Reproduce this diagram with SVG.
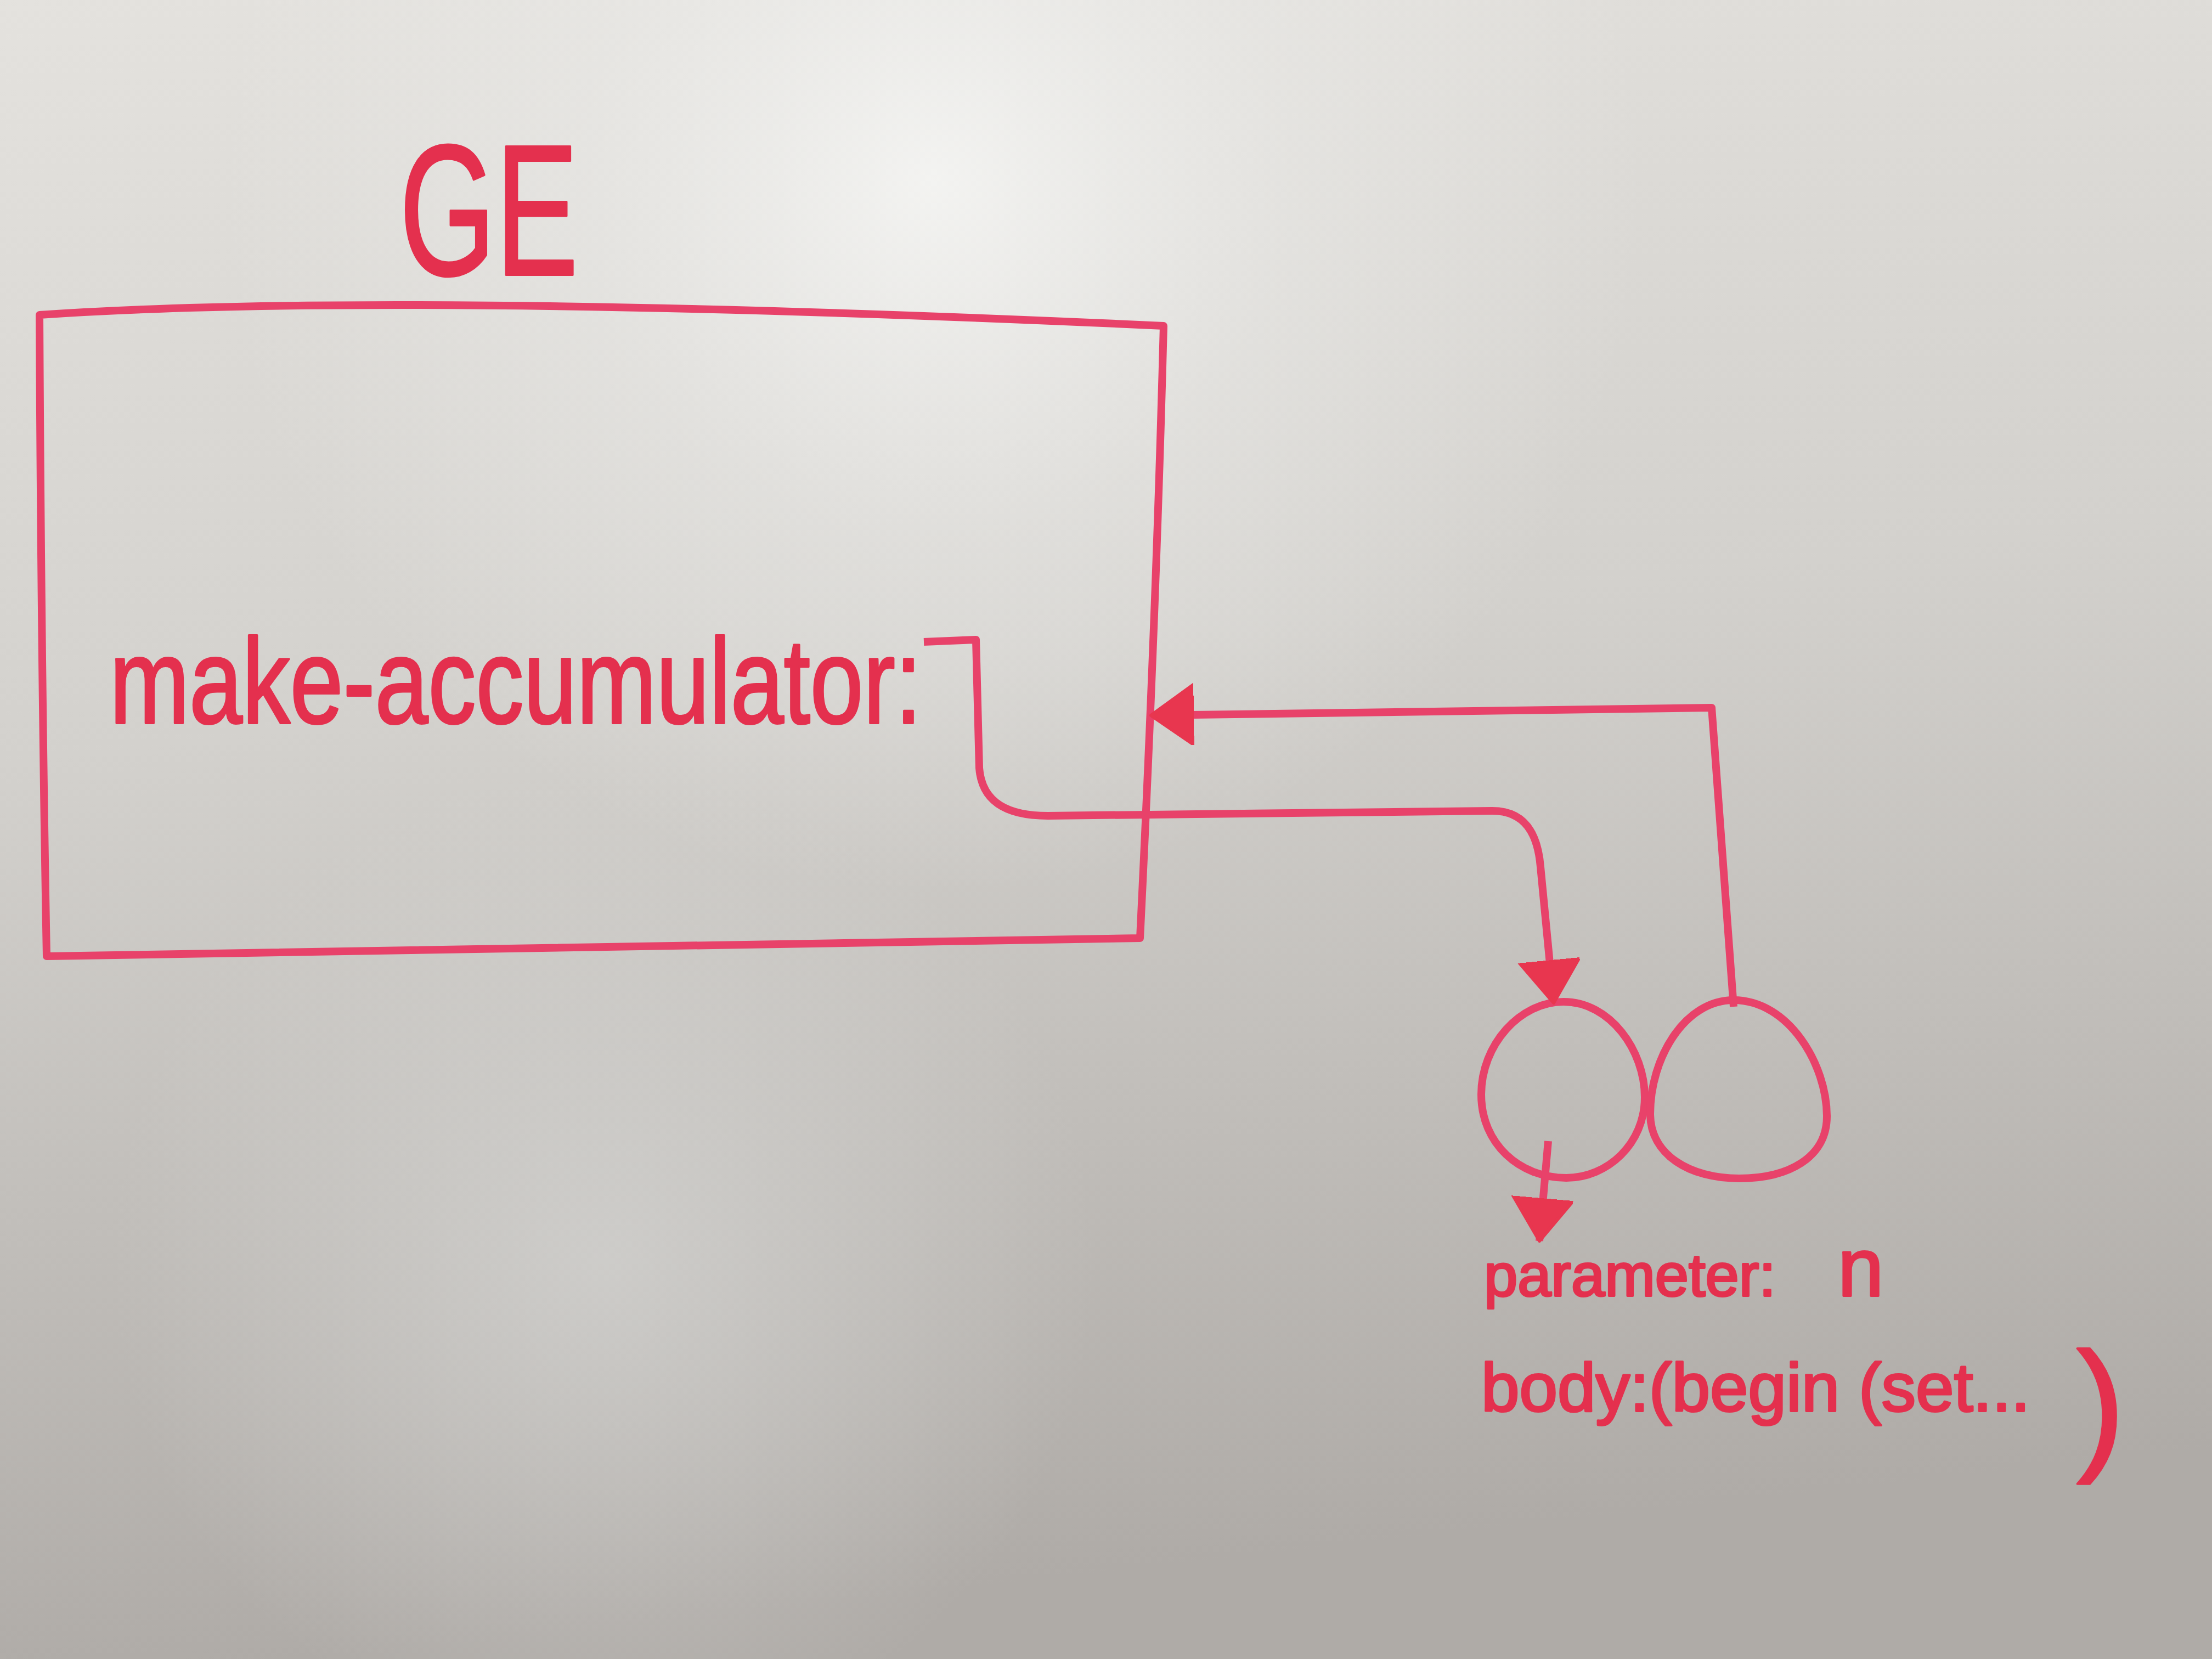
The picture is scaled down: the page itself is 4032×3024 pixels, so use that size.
<svg xmlns="http://www.w3.org/2000/svg" width="4032" height="3024" viewBox="0 0 4032 3024">
  <defs>
    <linearGradient id="board" x1="0" y1="0" x2="0.15" y2="1">
      <stop offset="0" stop-color="#e4e2de"/>
      <stop offset="0.45" stop-color="#d3d1cd"/>
      <stop offset="1" stop-color="#afaba7"/>
    </linearGradient>
    <radialGradient id="glare" cx="1700" cy="330" r="1300" gradientUnits="userSpaceOnUse">
      <stop offset="0" stop-color="#f4f4f2" stop-opacity="0.95"/>
      <stop offset="0.5" stop-color="#eeeeec" stop-opacity="0.4"/>
      <stop offset="1" stop-color="#eeeeec" stop-opacity="0"/>
    </radialGradient>
    <radialGradient id="glare2" cx="1100" cy="2300" r="900" gradientUnits="userSpaceOnUse">
      <stop offset="0" stop-color="#d8d8d6" stop-opacity="0.6"/>
      <stop offset="1" stop-color="#d8d8d6" stop-opacity="0"/>
    </radialGradient>
    <marker id="head" markerUnits="userSpaceOnUse" markerWidth="90" markerHeight="120" refX="78" refY="55" orient="auto" viewBox="0 0 90 120">
      <path d="M0,0 L78,55 L0,110 Z" fill="#e8364f" stroke="#e8364f" stroke-width="6" stroke-linejoin="round"/>
    </marker>
    <style>
      .ink { fill: none; stroke: #e8426a; stroke-width: 14; stroke-linecap: round; stroke-linejoin: round; }
      .conn { fill: none; stroke: #e8426a; stroke-width: 14; stroke-linecap: butt; stroke-linejoin: round; }
      .hand { fill: #e4304e; stroke: #e4304e; stroke-width: 4; stroke-linejoin: round; font-family: "Liberation Sans", "DejaVu Sans", sans-serif; }
    </style>
  </defs>

  <rect x="0" y="0" width="4032" height="3024" fill="url(#board)"/>
  <rect x="0" y="0" width="4032" height="3024" fill="url(#glare)"/>
  <rect x="0" y="0" width="4032" height="3024" fill="url(#glare2)"/>

  <g id="global-environment">
    <path class="ink" d="M72,574 Q720,530 2121,594 Q2108,1100 2078,1710 L85,1743 Q75,1200 72,574 Z"/>
    <text class="hand" x="728" y="501" font-size="340" textLength="326" lengthAdjust="spacingAndGlyphs">GE</text>
    <text class="hand" x="200" y="1318" font-size="220" textLength="1480" lengthAdjust="spacingAndGlyphs">make-accumulator:</text>
  </g>

  <g id="procedure-left">
    <path class="ink" d="M2850,1826 C2935,1826 2998,1915 2998,2000 C2998,2085 2930,2147 2855,2147 C2770,2147 2700,2085 2700,1995 C2700,1905 2770,1826 2850,1826 Z"/>
  </g>

  <g id="procedure-right">
    <path class="ink" d="M3160,1823 C3260,1823 3330,1940 3330,2035 C3330,2110 3260,2148 3170,2148 C3080,2148 3008,2105 3008,2030 C3008,1930 3070,1823 3160,1823 Z"/>
  </g>

  <g id="procedure-label">
    <text class="hand" y="2362"><tspan x="2705" font-size="110">parameter:</tspan><tspan x="3350" font-size="150">n</tspan></text>
    <text class="hand" x="2700" y="2572" font-size="125">body:(begin (set...</text>
    <text class="hand" x="3785" y="2650" font-size="265">)</text>
  </g>

  <g id="connectors">
    <path class="conn" marker-end="url(#head)" d="M1684,1170 L1779,1166 L1785,1400 C1790,1465 1840,1487 1910,1487 L2720,1478 C2780,1478 2803,1520 2808,1580 L2832,1828"/>
    <path class="conn" marker-end="url(#head)" d="M3160,1835 L3120,1290 L2098,1304"/>
    <path class="conn" marker-end="url(#head)" d="M2822,2080 L2806,2262"/>
  </g>
</svg>
